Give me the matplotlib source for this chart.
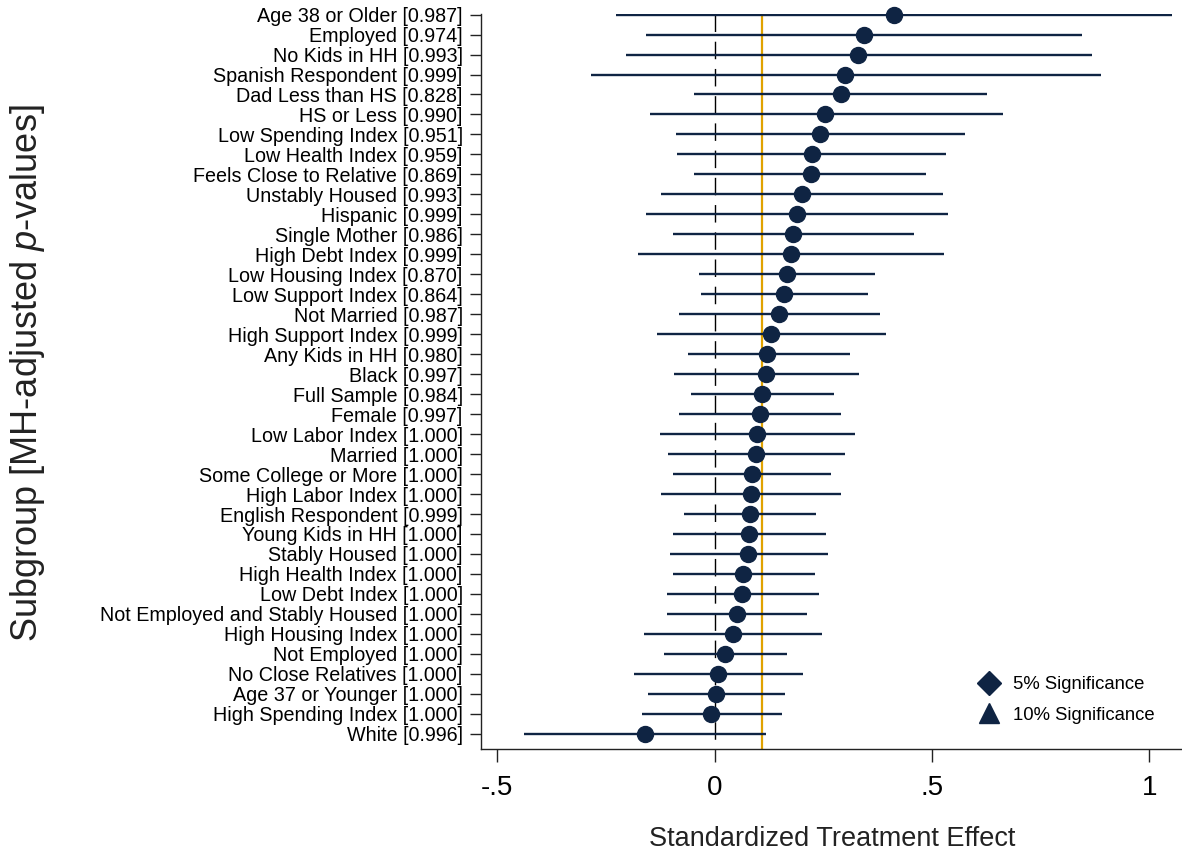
import numpy as np
import matplotlib
matplotlib.use("Agg")
import matplotlib.pyplot as plt
from matplotlib.lines import Line2D

# subgroup labels with MH-adjusted p-values, top to bottom
labels = [
    "Age 38 or Older [0.987]", "Employed [0.974]", "No Kids in HH [0.993]",
    "Spanish Respondent [0.999]", "Dad Less than HS [0.828]", "HS or Less [0.990]",
    "Low Spending Index [0.951]", "Low Health Index [0.959]",
    "Feels Close to Relative [0.869]", "Unstably Housed [0.993]", "Hispanic [0.999]",
    "Single Mother [0.986]", "High Debt Index [0.999]", "Low Housing Index [0.870]",
    "Low Support Index [0.864]", "Not Married [0.987]", "High Support Index [0.999]",
    "Any Kids in HH [0.980]", "Black [0.997]", "Full Sample [0.984]", "Female [0.997]",
    "Low Labor Index [1.000]", "Married [1.000]", "Some College or More [1.000]",
    "High Labor Index [1.000]", "English Respondent [0.999]", "Young Kids in HH [1.000]",
    "Stably Housed [1.000]", "High Health Index [1.000]", "Low Debt Index [1.000]",
    "Not Employed and Stably Housed [1.000]", "High Housing Index [1.000]",
    "Not Employed [1.000]", "No Close Relatives [1.000]", "Age 37 or Younger [1.000]",
    "High Spending Index [1.000]", "White [0.996]",
]
est = [0.413, 0.343, 0.331, 0.301, 0.290, 0.255, 0.243, 0.224, 0.221, 0.201,
       0.189, 0.181, 0.176, 0.166, 0.160, 0.149, 0.130, 0.121, 0.119, 0.110,
       0.105, 0.097, 0.095, 0.086, 0.083, 0.082, 0.080, 0.078, 0.066, 0.064,
       0.051, 0.043, 0.025, 0.009, 0.003, -0.007, -0.160]
lo = [-0.226, -0.158, -0.204, -0.285, -0.048, -0.149, -0.089, -0.087, -0.047, -0.123,
      -0.158, -0.095, -0.175, -0.035, -0.031, -0.081, -0.133, -0.060, -0.093, -0.055,
      -0.081, -0.126, -0.106, -0.095, -0.124, -0.070, -0.096, -0.103, -0.095, -0.110,
      -0.110, -0.163, -0.116, -0.185, -0.152, -0.166, -0.438]
hi = [1.051, 0.846, 0.869, 0.888, 0.627, 0.663, 0.575, 0.533, 0.487, 0.525,
      0.536, 0.458, 0.527, 0.368, 0.352, 0.380, 0.394, 0.311, 0.333, 0.275,
      0.292, 0.322, 0.299, 0.267, 0.290, 0.233, 0.257, 0.260, 0.230, 0.241,
      0.213, 0.248, 0.166, 0.204, 0.161, 0.156, 0.118]
xticks = [-0.5, 0, 0.5, 1]
xticklabels = ["-.5", "0", ".5", "1"]

navy = "#0f2443"
gold = "#e0a200"

plt.rcParams['font.family'] = ['Liberation Sans', 'DejaVu Sans']
plt.rcParams['mathtext.fontset'] = 'custom'
plt.rcParams['mathtext.it'] = 'Liberation Sans:italic'
plt.rcParams['lines.scale_dashes'] = False

fig = plt.figure(figsize=(11.82, 8.52), dpi=100, facecolor='w')
ax = fig.add_axes([0.4073, 0.1212, 0.5927, 0.8624])

y = np.arange(len(labels))
ax.hlines(y, lo, hi, color=navy, lw=1.7, zorder=3)
ax.plot(est, y, 'o', color=navy, ms=11.5, zorder=4, clip_on=False)

# reference lines: zero and full-sample estimate
ytop, ybot = -0.03, len(labels) - 0.25
ax.plot([0, 0], [ytop, ybot], color='black', lw=1.0, dashes=(12.6, 7.0), dash_capstyle='butt', zorder=2)
full = est[labels.index("Full Sample [0.984]")]
ax.plot([full, full], [0, ybot], color=gold, lw=1.6, zorder=2)

ax.set_ylim(ybot, ytop)
ax.set_xlim(-0.536, 1.075)
ax.set_yticks(y)
ax.set_yticklabels(labels, fontsize=14.2)
ax.set_xticks(xticks)
ax.set_xticklabels(xticklabels, fontsize=20)
ax.tick_params(axis='y', length=8, width=1.0, pad=5.5, color='#222222')
ax.tick_params(axis='x', length=9, width=1.0, pad=10, color='#222222')
for s in ['top', 'right']:
    ax.spines[s].set_visible(False)
for s in ['left', 'bottom']:
    ax.spines[s].set_color('#222222')
    ax.spines[s].set_linewidth(1.0)

ax.set_xlabel("Standardized Treatment Effect", fontsize=19.5, labelpad=18, color='#222222')
fig.text(0.023, 0.562, "Subgroup [MH-adjusted $p$-values]", rotation=90, fontsize=26,
         ha='center', va='center', color='#222222')

handles = [Line2D([], [], ls='none', marker='D', color=navy, ms=12),
           Line2D([], [], ls='none', marker='^', color=navy, ms=14)]
ax.legend(handles, ["5% Significance", "10% Significance"], frameon=False,
          fontsize=13.3, loc='upper left', bbox_to_anchor=(979.6 / 1182, 1 - 676 / 852),
          bbox_transform=fig.transFigure, borderpad=0, borderaxespad=0, handlelength=1.0,
          handletextpad=0.8, labelspacing=0.75)

fig.savefig("out.png", dpi=100, facecolor='w')
